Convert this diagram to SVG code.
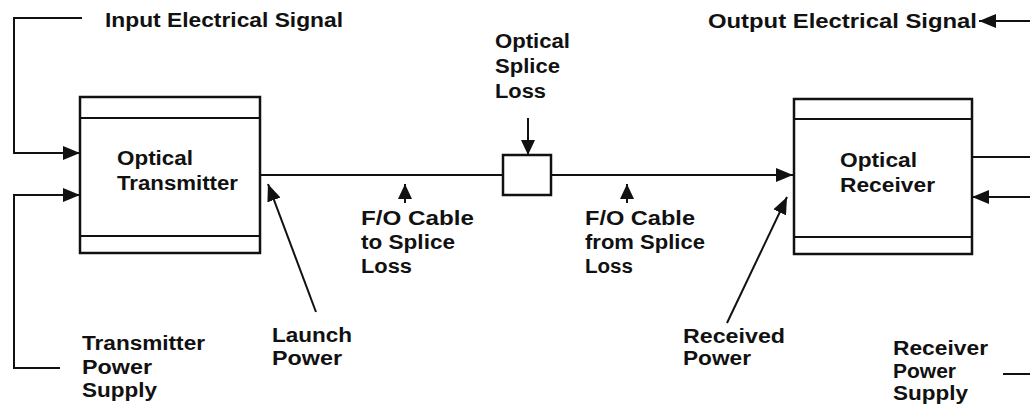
<svg xmlns="http://www.w3.org/2000/svg" width="1030" height="407" viewBox="0 0 1030 407">
<style>
.box{fill:#fff;stroke:#111;stroke-width:2.5}
.ln{fill:none;stroke:#111;stroke-width:2.2}
.c{fill:none;stroke:#111;stroke-width:2}
text{font-family:"Liberation Sans",Arial,sans-serif;font-size:20px;font-weight:bold;fill:#111}
</style>
<defs>
<marker id="ah" markerUnits="userSpaceOnUse" markerWidth="18" markerHeight="14" refX="17" refY="7" orient="auto">
<path d="M0,0 L17,7 L0,14 Z" fill="#111"/>
</marker>
<marker id="ahs" markerUnits="userSpaceOnUse" markerWidth="16" markerHeight="14" refX="15" refY="7" orient="auto">
<path d="M0,0 L15,7 L0,14 Z" fill="#111"/>
</marker>
</defs>
<g id="transmitter">
<rect class="box" x="80" y="97" width="180" height="156"/>
<line class="ln" x1="80" y1="118" x2="260" y2="118"/>
<line class="ln" x1="80" y1="236" x2="260" y2="236"/>
<text x="117" y="165" textLength="76" lengthAdjust="spacingAndGlyphs">Optical</text>
<text x="117" y="190" textLength="121" lengthAdjust="spacingAndGlyphs">Transmitter</text>
</g>
<g id="receiver">
<rect class="box" x="794" y="99" width="178" height="155"/>
<line class="ln" x1="794" y1="119" x2="972" y2="119"/>
<line class="ln" x1="794" y1="237" x2="972" y2="237"/>
<text x="840" y="167" textLength="77" lengthAdjust="spacingAndGlyphs">Optical</text>
<text x="840" y="192" textLength="95" lengthAdjust="spacingAndGlyphs">Receiver</text>
</g>
<g id="splice">
<rect class="box" x="503" y="155" width="48" height="40"/>
</g>
<g id="connectors">
<path class="c" d="M82,18 H14 V153 H80" marker-end="url(#ah)"/>
<path class="c" d="M60,368 H14 V195 H80" marker-end="url(#ah)"/>
<path class="c" d="M260,175 H503"/>
<path class="c" d="M551,175 H793" marker-end="url(#ah)"/>
<path class="c" d="M528,118 V155" marker-end="url(#ahs)"/>
<path class="c" d="M405,203 V184" marker-end="url(#ahs)"/>
<path class="c" d="M627,203 V184" marker-end="url(#ahs)"/>
<path class="c" d="M316,312 L268,184" marker-end="url(#ah)"/>
<path class="c" d="M727,323 L787,197" marker-end="url(#ah)"/>
<path class="c" d="M1030,21 H979" marker-end="url(#ah)"/>
<path class="c" d="M972,157 H1030"/>
<path class="c" d="M1030,197 H972" marker-end="url(#ah)"/>
<path class="c" d="M1003,374 H1030"/>
</g>
<g id="labels">
<text x="105" y="27" textLength="238" lengthAdjust="spacingAndGlyphs">Input Electrical Signal</text>
<text x="708" y="28" textLength="269" lengthAdjust="spacingAndGlyphs">Output Electrical Signal</text>
<text x="495" y="48" textLength="75" lengthAdjust="spacingAndGlyphs">Optical</text>
<text x="495" y="73" textLength="65" lengthAdjust="spacingAndGlyphs">Splice</text>
<text x="495" y="98" textLength="51" lengthAdjust="spacingAndGlyphs">Loss</text>
<text x="361" y="225" textLength="113" lengthAdjust="spacingAndGlyphs">F/O Cable</text>
<text x="361" y="249" textLength="94" lengthAdjust="spacingAndGlyphs">to Splice</text>
<text x="361" y="273" textLength="51" lengthAdjust="spacingAndGlyphs">Loss</text>
<text x="585" y="225" textLength="110" lengthAdjust="spacingAndGlyphs">F/O Cable</text>
<text x="585" y="249" textLength="120" lengthAdjust="spacingAndGlyphs">from Splice</text>
<text x="585" y="273" textLength="48" lengthAdjust="spacingAndGlyphs">Loss</text>
<text x="272" y="342" textLength="80" lengthAdjust="spacingAndGlyphs">Launch</text>
<text x="272" y="365" textLength="70" lengthAdjust="spacingAndGlyphs">Power</text>
<text x="82" y="350" textLength="123" lengthAdjust="spacingAndGlyphs">Transmitter</text>
<text x="82" y="374" textLength="70" lengthAdjust="spacingAndGlyphs">Power</text>
<text x="82" y="397" textLength="75" lengthAdjust="spacingAndGlyphs">Supply</text>
<text x="683" y="343" textLength="102" lengthAdjust="spacingAndGlyphs">Received</text>
<text x="683" y="365" textLength="68" lengthAdjust="spacingAndGlyphs">Power</text>
<text x="893" y="355" textLength="95" lengthAdjust="spacingAndGlyphs">Receiver</text>
<text x="893" y="378" textLength="63" lengthAdjust="spacingAndGlyphs">Power</text>
<text x="893" y="400" textLength="75" lengthAdjust="spacingAndGlyphs">Supply</text>
</g>
</svg>
